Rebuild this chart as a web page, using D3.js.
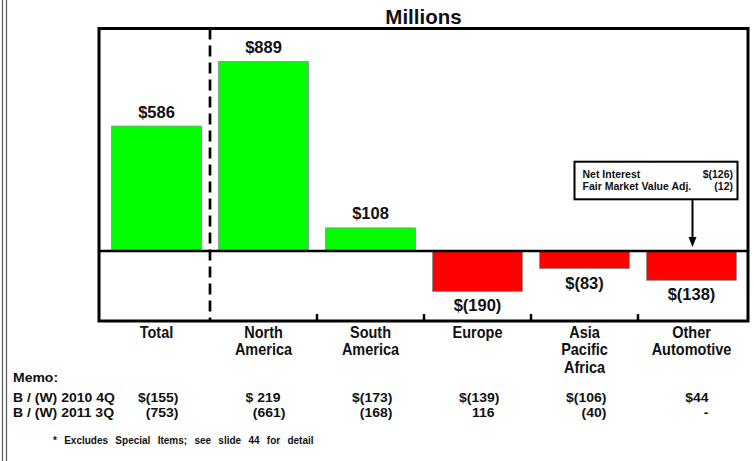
<!DOCTYPE html>
<html>
<head>
<meta charset="utf-8">
<script src="https://cdn.jsdelivr.net/npm/d3@7"></script>
<style>
  html, body { margin: 0; padding: 0; background: #fff; }
  svg { display: block; font-family: "Liberation Sans", Arial, Helvetica, sans-serif; font-weight: bold; }
</style>
</head>
<body>
<svg id="chart" width="754" height="461"></svg>
<script>
// ---- data ----
const categories = ["Total", "North America", "South America", "Europe", "Asia Pacific Africa", "Other Automotive"];
const values = [586, 889, 108, -190, -83, -138];
const title = "Millions";
const memoTitle = "Memo:";
const memoRowLabels = ["B / (W) 2010 4Q", "B / (W) 2011 3Q"];
const memo2010Q4 = ["$(155)", "$ 219", "$(173)", "$(139)", "$(106)", "$44"];
const memo2011Q3 = ["(753)", "(661)", "(168)", "116", "(40)", "-"];
const noteLabels = ["Net Interest", "Fair Market Value Adj."];
const noteValues = ["$(126)", "(12)"];
const footnote = "* Excludes Special Items; see slide 44 for detail";
const yDomain = [-329, 1044];

// ---- layout ----
const svg = d3.select("#chart");
const frame = { left: 99, top: 28.5, right: 748, bottom: 321 };

const x = d3.scaleBand().domain(categories).range([103, 745]).paddingInner(0.16).paddingOuter(0.08);
const y = d3.scaleLinear().domain(yDomain).range([frame.bottom, frame.top]);
const step = x.step();
const boundary = c => x(c) - x.paddingInner() * step / 2;
const center = c => x(c) + x.bandwidth() / 2;
const fmt = v => v < 0 ? "$(" + Math.abs(v) + ")" : "$" + v;

// scaled text helper
function stext(g, tx, ty, str, size, anchor, sx, sy) {
  return g.append("text")
    .attr("transform", `translate(${tx},${ty}) scale(${sx},${sy})`)
    .attr("text-anchor", anchor).attr("font-size", size).attr("fill", "#111").text(str);
}

// left page border lines
svg.append("line").attr("x1", 2.5).attr("x2", 2.5).attr("y1", 0).attr("y2", 461).attr("stroke", "#555").attr("stroke-width", 1.2);
svg.append("line").attr("x1", 6.5).attr("x2", 6.5).attr("y1", 0).attr("y2", 461).attr("stroke", "#555").attr("stroke-width", 1.2);

// title
stext(svg, (frame.left + frame.right) / 2, 24, title, 20.5, "middle", 1, 1);

// bars
svg.append("g").selectAll("rect").data(values).join("rect")
  .attr("x", (d, i) => x(categories[i]))
  .attr("width", x.bandwidth())
  .attr("y", d => y(Math.max(0, d)))
  .attr("height", d => Math.abs(y(d) - y(0)))
  .attr("fill", d => d >= 0 ? "#00ff00" : "#ff0000")
  .attr("stroke", "#8a8a8a").attr("stroke-width", 0.8);

// value labels
svg.append("g").selectAll("text").data(values).join("text")
  .attr("x", (d, i) => center(categories[i]))
  .attr("y", d => d >= 0 ? y(d) - 8.5 : y(d) + 20)
  .attr("text-anchor", "middle").attr("font-size", 16.5).attr("fill", "#111")
  .text(d => fmt(d));

// frame
svg.append("rect").attr("x", frame.left).attr("y", frame.top)
  .attr("width", frame.right - frame.left).attr("height", frame.bottom - frame.top)
  .attr("fill", "none").attr("stroke", "#000").attr("stroke-width", 3);

// zero line
svg.append("line").attr("x1", frame.left).attr("x2", frame.right)
  .attr("y1", y(0)).attr("y2", y(0)).attr("stroke", "#000").attr("stroke-width", 2.5);

// ticks at category boundaries (first one is dashed separator)
svg.append("g").selectAll("line").data(categories.slice(2)).join("line")
  .attr("x1", c => boundary(c)).attr("x2", c => boundary(c))
  .attr("y1", frame.bottom).attr("y2", frame.bottom - 7)
  .attr("stroke", "#000").attr("stroke-width", 2.5);
svg.append("line")
  .attr("x1", boundary(categories[1])).attr("x2", boundary(categories[1]))
  .attr("y1", frame.top).attr("y2", frame.bottom)
  .attr("stroke", "#000").attr("stroke-width", 2.7).attr("stroke-dasharray", "11,6");

// category labels
const catG = svg.append("g");
const catSy = 1.09;
categories.forEach(c => {
  const t = catG.append("text")
    .attr("transform", `translate(${center(c)},337.5) scale(1,${catSy})`)
    .attr("text-anchor", "middle").attr("font-size", 14.5).attr("fill", "#111");
  c.split(" ").forEach((w, j) => {
    t.append("tspan").attr("x", 0).attr("y", j * 17.6 / catSy).text(w);
  });
});

// annotation box + arrow
const arrowX = center(categories[5]) + 1;
const box = { x0: arrowX - 118, x1: arrowX + 45, y0: 161.7, y1: 199.3 };
svg.append("rect").attr("x", box.x0).attr("y", box.y0)
  .attr("width", box.x1 - box.x0).attr("height", box.y1 - box.y0)
  .attr("fill", "#fff").attr("stroke", "#000").attr("stroke-width", 2);
noteLabels.forEach((l, i) => {
  stext(svg, box.x0 + 8, 178 + i * 11.5, l, 10.5, "start", 1, 1);
  stext(svg, box.x1 - 4.5, 178 + i * 11.5, noteValues[i], 10.5, "end", 1, 1);
});
svg.append("line").attr("x1", arrowX).attr("x2", arrowX).attr("y1", box.y1).attr("y2", 238)
  .attr("stroke", "#000").attr("stroke-width", 2);
svg.append("path")
  .attr("d", `M${arrowX - 4},237 L${arrowX + 4},237 L${arrowX},247 Z`)
  .attr("fill", "#000");

// memo
const memoSize = 13.2, memoSx = 1.06;
stext(svg, 13, 382, memoTitle, memoSize, "start", memoSx, 1);
const memoRows = [memo2010Q4, memo2011Q3];
memoRows.forEach((row, r) => {
  const yy = 401.5 + r * 15.2;
  const g = svg.append("g");
  stext(g, 13, yy, memoRowLabels[r], memoSize, "start", memoSx, 1);
  row.forEach((d, i) => {
    const xx = center(categories[i]) + 22 - (d.endsWith(")") ? 0 : 5);
    stext(g, xx, yy, d, memoSize, "end", memoSx, 1);
  });
});

// footnote
svg.append("text").attr("x", 53).attr("y", 444).attr("font-size", 10)
  .attr("word-spacing", 4.5).attr("fill", "#111").text(footnote);
</script>
</body>
</html>
